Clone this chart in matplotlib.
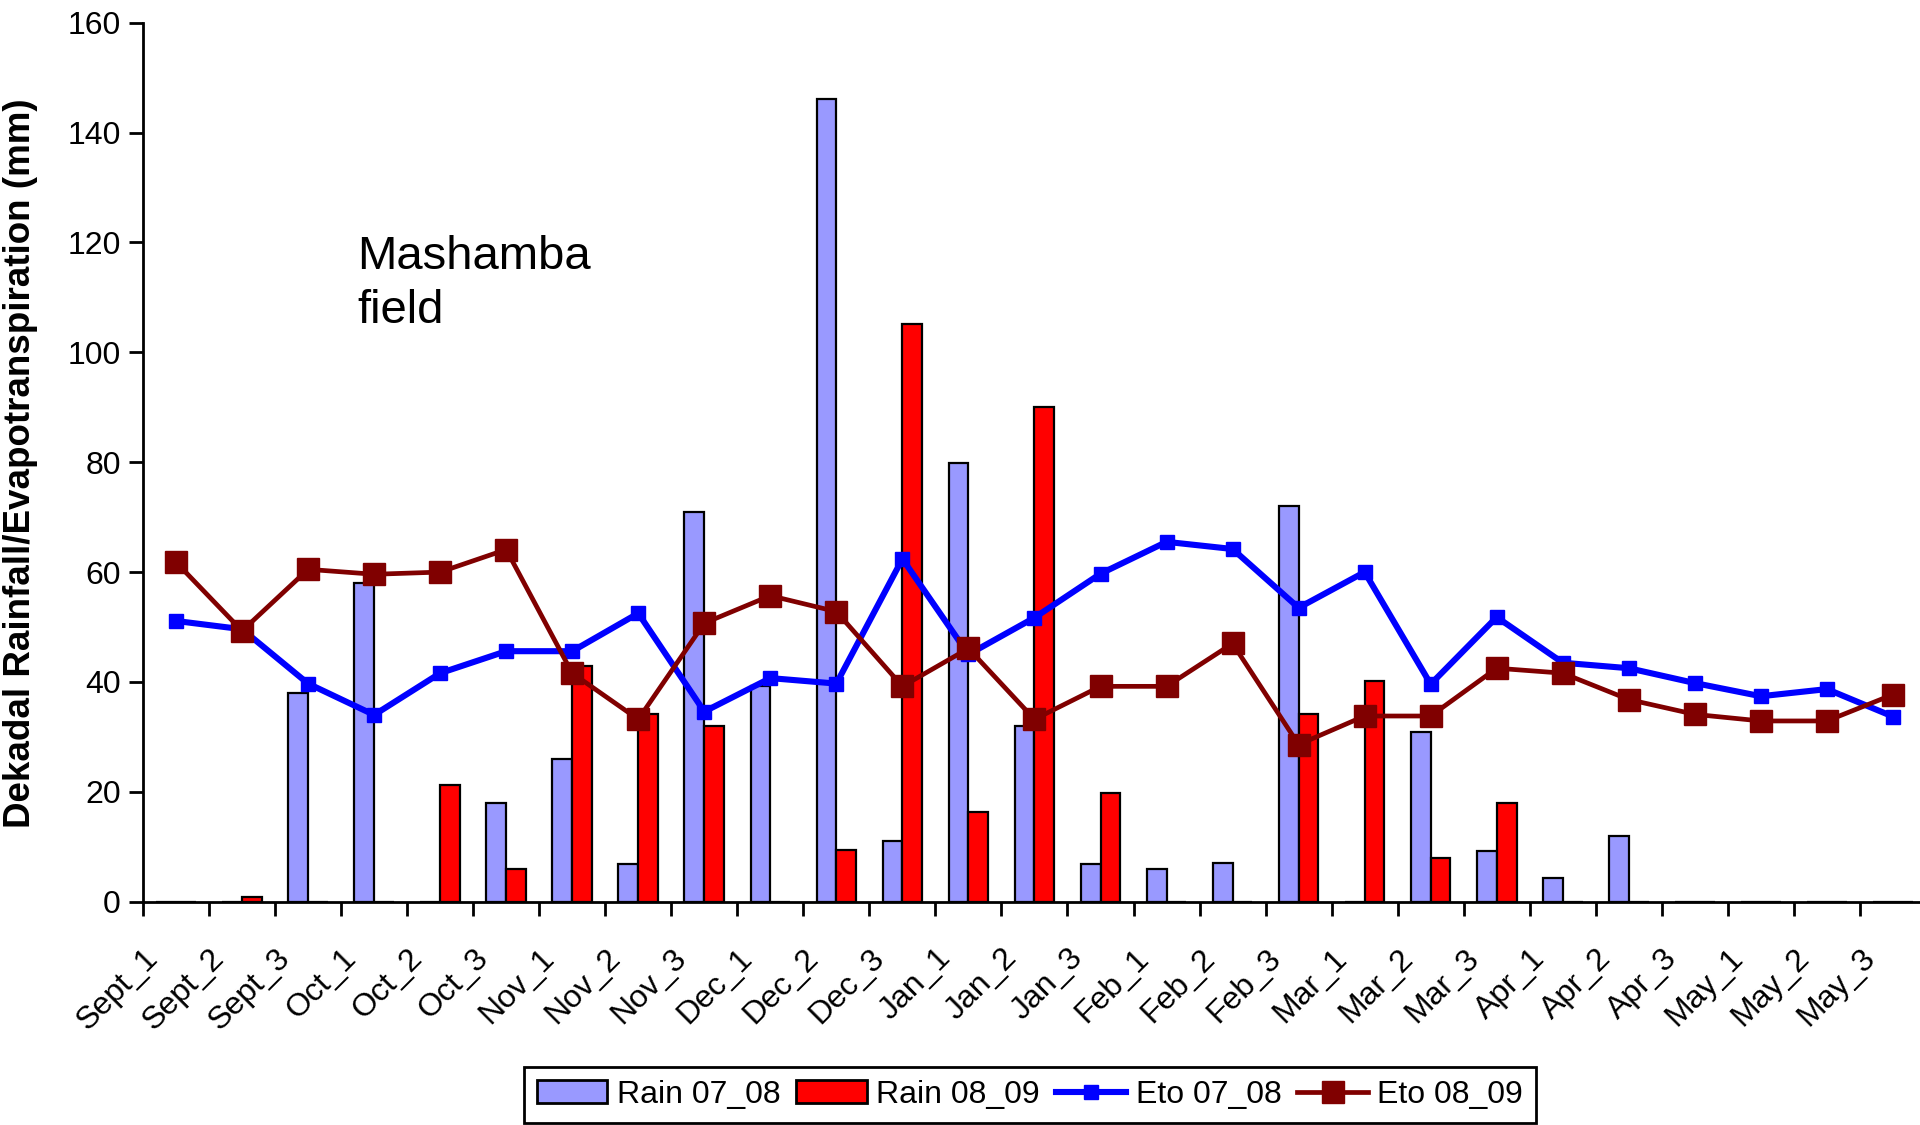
import matplotlib
matplotlib.use("Agg")
import matplotlib.pyplot as plt
from matplotlib.patches import Patch
from matplotlib.lines import Line2D
from matplotlib.transforms import offset_copy
import numpy as np

plt.rcParams['font.family'] = ['Liberation Sans', 'DejaVu Sans']

categories = ["Sept_1", "Sept_2", "Sept_3", "Oct_1", "Oct_2", "Oct_3",
              "Nov_1", "Nov_2", "Nov_3", "Dec_1", "Dec_2", "Dec_3",
              "Jan_1", "Jan_2", "Jan_3", "Feb_1", "Feb_2", "Feb_3",
              "Mar_1", "Mar_2", "Mar_3", "Apr_1", "Apr_2", "Apr_3",
              "May_1", "May_2", "May_3"]

rain_07_08 = [0, 0, 37.9, 58.1, 0, 18.0, 25.9, 6.9, 71.0, 39.3, 146.2, 11.1,
              79.9, 31.9, 6.9, 6.0, 7.0, 72.0, 0, 30.9, 9.3, 4.3, 12.0, 0,
              0, 0, 0]
rain_08_09 = [0, 0.9, 0, 0, 21.2, 6.0, 42.9, 34.1, 31.9, 0, 9.4, 105.2,
              16.3, 90.0, 19.8, 0, 0, 34.1, 40.2, 7.9, 18.0, 0, 0, 0,
              0, 0, 0]
eto_07_08 = [51.1, 49.6, 39.7, 34.0, 41.6, 45.6, 45.6, 52.5, 34.6, 40.7, 39.7, 62.4,
             45.0, 51.7, 59.7, 65.5, 64.2, 53.5, 60.0, 39.6, 51.8, 43.5, 42.5, 39.8,
             37.4, 38.7, 33.7]
eto_08_09 = [61.8, 49.3, 60.5, 59.6, 60.0, 64.1, 41.6, 33.2, 50.7, 55.7, 52.8, 39.2,
             46.1, 33.2, 39.2, 39.2, 47.0, 28.6, 33.8, 33.8, 42.5, 41.6, 36.8, 34.1,
             32.9, 32.9, 37.7]

series_names = ["Rain 07_08", "Rain 08_09", "Eto 07_08", "Eto 08_09"]
yticks = [0, 20, 40, 60, 80, 100, 120, 140, 160]

c_rain1 = "#9999FF"
c_rain2 = "#FF0000"
c_eto1 = "#0000FF"
c_eto2 = "#800000"

fig = plt.figure(figsize=(19.2, 11.25), dpi=100)
ax = fig.add_axes([143/1920, 1 - 901.7/1125, 1 - 143/1920, (901.7 - 22.7)/1125])

x = np.arange(len(categories))
bw = 0.30
ax.bar(x - bw/2, rain_07_08, width=bw, color=c_rain1, edgecolor="black", linewidth=1.6, zorder=2)
ax.bar(x + bw/2, rain_08_09, width=bw, color=c_rain2, edgecolor="black", linewidth=1.6, zorder=2)
ax.plot(x, eto_07_08, color=c_eto1, lw=4.4, marker="s", ms=10.5, zorder=3)
ax.plot(x, eto_08_09, color=c_eto2, lw=3.4, marker="s", ms=16.5, zorder=4)

ax.set_xlim(-0.5, 26.41)
ax.set_ylim(0, 160)
ax.set_yticks(yticks)
ax.tick_params(axis="y", labelsize=23, length=10, width=2, direction="out", pad=6)
ax.set_xticks(np.arange(len(categories)) - 0.5)
ax.set_xticklabels([])
ax.tick_params(axis="x", length=10, width=2, direction="out")
for s in ["top", "right"]:
    ax.spines[s].set_visible(False)
for s in ["left", "bottom"]:
    ax.spines[s].set_linewidth(2)

trans = offset_copy(ax.transData, fig=fig, x=-12, y=-41.5, units="points")
for i, lab in enumerate(categories):
    ax.text(x[i], 0, lab, transform=trans, rotation=45, rotation_mode="anchor",
            ha="right", va="baseline", fontsize=23, clip_on=False)

fig.text(21/1920, 1 - 463/1125, "Dekadal Rainfall/Evapotranspiration (mm)",
         rotation=90, ha="center", va="center", fontsize=26.5, fontweight="bold")

fig.text(357/1920, 1 - 235/1125, "Mashamba\nfield", ha="left", va="top",
         fontsize=34, linespacing=1.3)

handles = [Patch(facecolor=c_rain1, edgecolor="black", linewidth=2),
           Patch(facecolor=c_rain2, edgecolor="black", linewidth=2),
           Line2D([], [], color=c_eto1, lw=4.4, marker="s", ms=10.5),
           Line2D([], [], color=c_eto2, lw=3.4, marker="s", ms=16.5)]
leg = fig.legend(handles, series_names, loc="upper center",
                 bbox_to_anchor=(1030/1920, 1 - 1067/1125), ncol=4, fontsize=23,
                 frameon=True, fancybox=False, edgecolor="black", framealpha=1,
                 handlelength=2.2, handletextpad=0.3, columnspacing=0.5,
                 borderpad=0.4, borderaxespad=0)
leg.get_frame().set_linewidth(2)

fig.savefig("out.png", dpi=100)
